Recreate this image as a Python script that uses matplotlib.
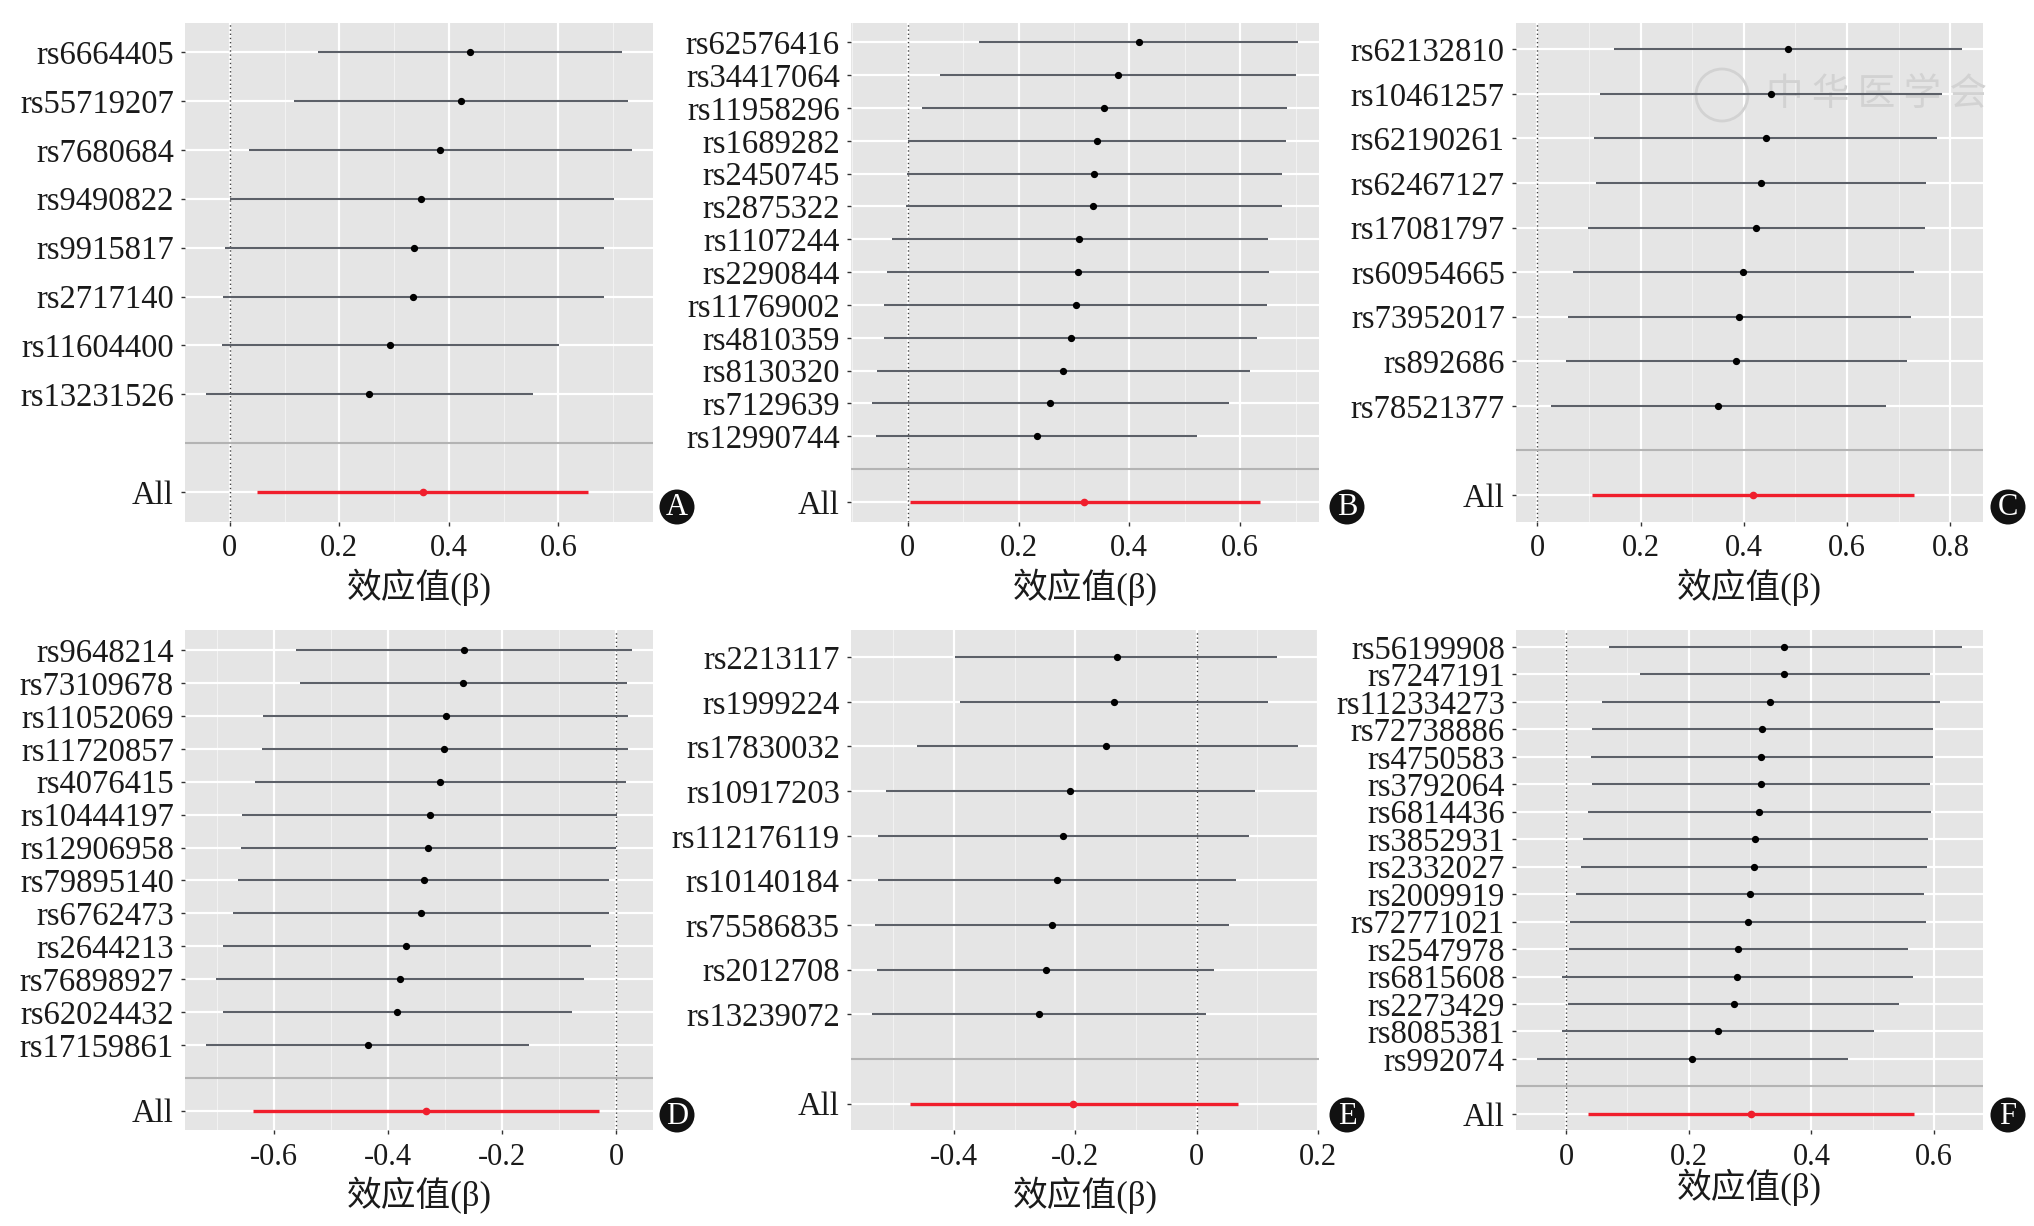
import matplotlib
matplotlib.use("Agg")
import matplotlib.pyplot as plt
from matplotlib.patches import Circle
from matplotlib.ticker import MultipleLocator, FuncFormatter

# ---------------- data ----------------
snps_A = ["rs6664405", "rs55719207", "rs7680684", "rs9490822", "rs9915817",
          "rs2717140", "rs11604400", "rs13231526"]
beta_A = [0.439, 0.422, 0.384, 0.350, 0.337, 0.335, 0.293, 0.255]
lo_A = [0.161, 0.117, 0.035, 0.000, -0.008, -0.012, -0.015, -0.043]
hi_A = [0.717, 0.728, 0.734, 0.701, 0.683, 0.683, 0.602, 0.554]
all_A = [0.050, 0.352, 0.655]

snps_B = ["rs62576416", "rs34417064", "rs11958296", "rs1689282", "rs2450745",
          "rs2875322", "rs1107244", "rs2290844", "rs11769002", "rs4810359",
          "rs8130320", "rs7129639", "rs12990744"]
beta_B = [0.417, 0.379, 0.354, 0.341, 0.337, 0.335, 0.310, 0.308, 0.303,
          0.294, 0.280, 0.257, 0.233]
lo_B = [0.129, 0.058, 0.025, 0.000, -0.002, -0.004, -0.029, -0.037, -0.042,
        -0.042, -0.055, -0.064, -0.057]
hi_B = [0.704, 0.701, 0.684, 0.683, 0.675, 0.675, 0.650, 0.653, 0.649,
        0.631, 0.617, 0.580, 0.523]
all_B = [0.004, 0.319, 0.635]

snps_C = ["rs62132810", "rs10461257", "rs62190261", "rs62467127", "rs17081797",
          "rs60954665", "rs73952017", "rs892686", "rs78521377"]
beta_C = [0.485, 0.453, 0.442, 0.433, 0.424, 0.399, 0.391, 0.385, 0.350]
lo_C = [0.149, 0.122, 0.110, 0.113, 0.099, 0.069, 0.060, 0.055, 0.026]
hi_C = [0.822, 0.784, 0.775, 0.753, 0.750, 0.729, 0.723, 0.716, 0.676]
all_C = [0.107, 0.418, 0.729]

snps_D = ["rs9648214", "rs73109678", "rs11052069", "rs11720857", "rs4076415",
          "rs10444197", "rs12906958", "rs79895140", "rs6762473", "rs2644213",
          "rs76898927", "rs62024432", "rs17159861"]
beta_D = [-0.267, -0.268, -0.299, -0.302, -0.309, -0.327, -0.330, -0.338,
          -0.342, -0.368, -0.380, -0.384, -0.436]
lo_D = [-0.561, -0.554, -0.619, -0.622, -0.634, -0.656, -0.658, -0.663,
        -0.672, -0.689, -0.702, -0.689, -0.719]
hi_D = [0.027, 0.018, 0.021, 0.020, 0.017, 0.002, 0.000, -0.012, -0.013,
        -0.045, -0.056, -0.077, -0.153]
all_D = [-0.637, -0.334, -0.030]

snps_E = ["rs2213117", "rs1999224", "rs17830032", "rs10917203", "rs112176119",
          "rs10140184", "rs75586835", "rs2012708", "rs13239072"]
beta_E = [-0.132, -0.136, -0.150, -0.208, -0.220, -0.231, -0.239, -0.249, -0.260]
lo_E = [-0.398, -0.390, -0.461, -0.512, -0.526, -0.526, -0.530, -0.527, -0.535]
hi_E = [0.133, 0.118, 0.167, 0.096, 0.087, 0.065, 0.054, 0.029, 0.015]
all_E = [-0.473, -0.203, 0.068]

snps_F = ["rs56199908", "rs7247191", "rs112334273", "rs72738886", "rs4750583",
          "rs3792064", "rs6814436", "rs3852931", "rs2332027", "rs2009919",
          "rs72771021", "rs2547978", "rs6815608", "rs2273429", "rs8085381",
          "rs992074"]
beta_F = [0.356, 0.356, 0.333, 0.320, 0.318, 0.317, 0.314, 0.308, 0.306,
          0.299, 0.296, 0.280, 0.279, 0.273, 0.247, 0.206]
lo_F = [0.070, 0.120, 0.058, 0.043, 0.040, 0.042, 0.035, 0.028, 0.025,
        0.017, 0.006, 0.004, -0.006, 0.003, -0.007, -0.047]
hi_F = [0.645, 0.594, 0.610, 0.598, 0.598, 0.593, 0.595, 0.590, 0.588,
        0.583, 0.586, 0.557, 0.566, 0.543, 0.502, 0.460]
all_F = [0.035, 0.301, 0.567]

panel_letters = ["A", "B", "C", "D", "E", "F"]
xlabel_text = "效应值(β)"
all_label = "All"
watermark_text = "中 华 医 学 会"

panels = [
    (snps_A, beta_A, lo_A, hi_A, all_A),
    (snps_B, beta_B, lo_B, hi_B, all_B),
    (snps_C, beta_C, lo_C, hi_C, all_C),
    (snps_D, beta_D, lo_D, hi_D, all_D),
    (snps_E, beta_E, lo_E, hi_E, all_E),
    (snps_F, beta_F, lo_F, hi_F, all_F),
]

# ---------------- layout (pixels) ----------------
W, H = 2034, 1226
boxes = [
    (185, 22.6, 468, 499), (851, 22.6, 468, 499), (1516, 22.6, 467, 499),
    (185, 630.4, 468, 500), (851, 630.4, 468, 500), (1516, 630.4, 467, 500),
]
circle_px = [(677, 507), (1347, 507), (2008, 507),
             (677, 1115), (1347, 1115), (2008, 1115)]
xlabel_off = [66, 66, 66, 65, 65, 57]

serif = ["Liberation Serif", "DejaVu Serif"]
cjk = ["Liberation Serif", "Noto Sans CJK SC", "DejaVu Sans"]


def fmt(v, p):
    if abs(v) < 1e-9:
        return "0"
    return "%g" % round(v, 2)


fig = plt.figure(figsize=(W / 100, H / 100), dpi=100)
fig.patch.set_facecolor("white")

axes = []
for k, (snps, beta, lo, hi, allv) in enumerate(panels):
    l, t, w, h = boxes[k]
    ax = fig.add_axes([l / W, 1 - (t + h) / H, w / W, h / H])
    axes.append(ax)
    ax.set_facecolor("#E5E5E5")
    n = len(snps)
    ys = list(range(n))
    y_all = n + 1

    xmin = min(min(lo), allv[0], 0.0)
    xmax = max(max(hi), allv[2], 0.0)
    pad = 0.05 * (xmax - xmin)
    ax.set_xlim(xmin - pad, xmax + pad)
    ax.set_ylim(n + 1.6, -0.6)

    ax.xaxis.set_major_locator(MultipleLocator(0.2))
    ax.xaxis.set_minor_locator(MultipleLocator(0.1))
    ax.xaxis.set_major_formatter(FuncFormatter(fmt))
    ax.set_yticks(ys + [y_all])
    ax.set_yticklabels(snps + [all_label])

    ax.grid(which="major", axis="both", color="white", linewidth=1.6, zorder=0)
    ax.grid(which="minor", axis="x", color="#F2F2F2", linewidth=0.8, zorder=0)
    ax.set_axisbelow(True)
    for s in ax.spines.values():
        s.set_visible(False)

    ax.axvline(0, color="#444444", linestyle=(0, (1, 2)), linewidth=1.0, zorder=1)
    ax.axhline(n, color="#B3B3B3", linewidth=1.5, zorder=1)

    ax.hlines(ys, lo, hi, color="#5C6068", linewidth=1.5, zorder=2)
    ax.plot(beta, ys, "o", color="black", markersize=4.2, zorder=3)
    ax.hlines([y_all], [allv[0]], [allv[2]], color="#F01E2C", linewidth=2.4, zorder=2)
    ax.plot([allv[1]], [y_all], "o", color="#F01E2C", markersize=4.5, zorder=3)

    ax.tick_params(axis="y", which="major", length=3, width=1, color="#333333",
                   pad=5, labelsize=23.5, labelcolor="#1A1A1A")
    ax.tick_params(axis="x", which="major", length=3, width=1, color="#333333",
                   pad=6, labelsize=22, labelcolor="#1A1A1A")
    ax.tick_params(axis="x", which="minor", length=0)
    for lab in ax.get_yticklabels() + ax.get_xticklabels():
        lab.set_fontfamily(serif)

    ax.set_xlabel(xlabel_text, fontsize=25, family=cjk, color="#1A1A1A")
    ax.xaxis.label.set_va("center")
    ax.xaxis.set_label_coords(0.5, -xlabel_off[k] / h)

    # panel letter in black circle
    cx, cy = circle_px[k]
    fig.add_artist(Circle((cx / 100, (H - cy) / 100), 0.175, transform=fig.dpi_scale_trans,
                          facecolor="#111111", edgecolor="none", zorder=10))
    fig.text(cx / W, 1 - (cy + 1) / H, panel_letters[k], color="white", fontsize=22,
             family=serif, ha="center", va="center", zorder=11)

# faint publisher watermark on panel C (above grid, below data marks)
axC = axes[2]
axC.add_patch(Circle((1722 / 100, (H - 95) / 100), 0.26, transform=fig.dpi_scale_trans,
                     facecolor="none", edgecolor="#D2D2D2", linewidth=2.0,
                     zorder=1.5, clip_on=False))
axC.text(1877 / W, 1 - 95 / H, watermark_text, transform=fig.transFigure,
         color="#D2D2D2", fontsize=27, family=["Noto Sans CJK SC", "DejaVu Sans"],
         style="italic", ha="center", va="center", zorder=1.5)

fig.savefig("out.png", dpi=100, facecolor="white")
